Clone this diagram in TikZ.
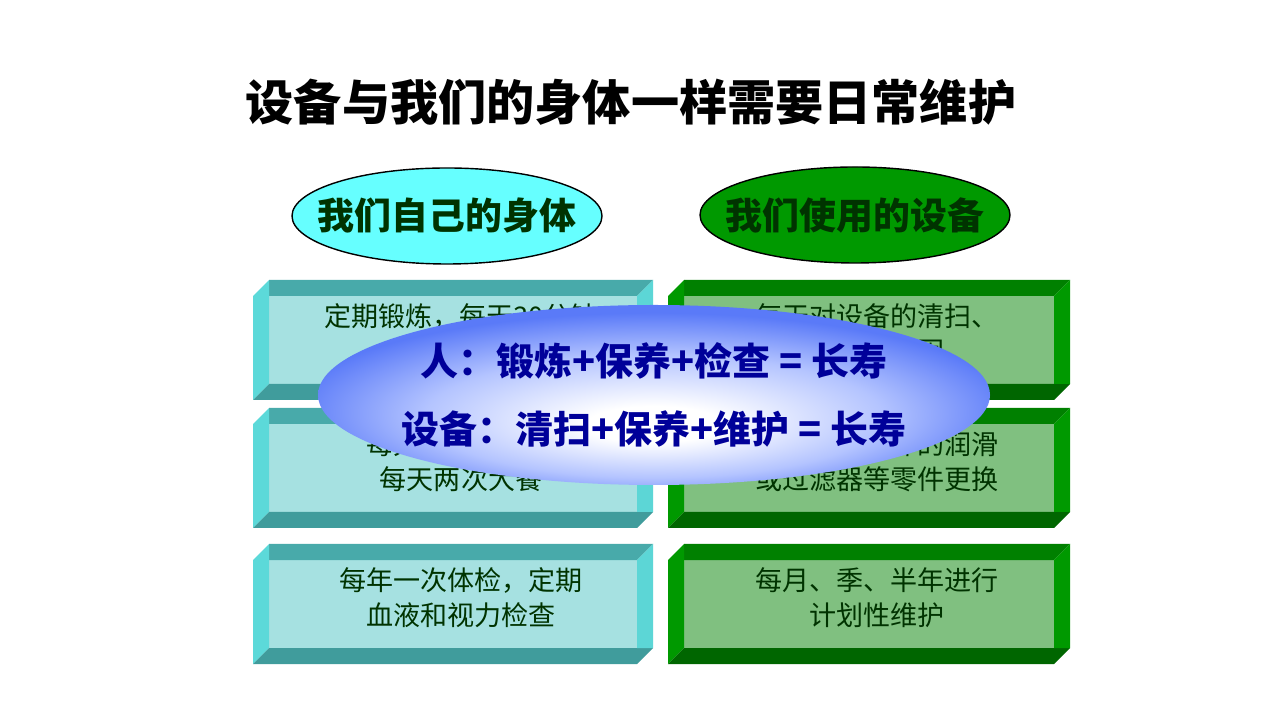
\documentclass[tikz,border=0pt]{standalone}
\usepackage{xcolor}
\usepackage{tikz}
\usetikzlibrary{shapes.geometric}
\usepackage{fontspec}
\setmainfont{Noto Sans CJK SC}

\definecolor{bodytop}{HTML}{48AAAA}
\definecolor{bodyleft}{HTML}{5CD9D9}
\definecolor{bodybot}{HTML}{409C9C}
\definecolor{bodyright}{HTML}{5CD6D6}
\definecolor{bodyface}{HTML}{A6E1E1}
\definecolor{machtop}{HTML}{008000}
\definecolor{machleft}{HTML}{009900}
\definecolor{machbot}{HTML}{006600}
\definecolor{machright}{HTML}{009900}
\definecolor{machface}{HTML}{80C080}
\definecolor{headcyan}{HTML}{66FFFF}
\definecolor{headgreen}{HTML}{009900}
\definecolor{boxink}{HTML}{003300}
\definecolor{mottoblue}{HTML}{000099}
\definecolor{glowblue}{HTML}{5A7AF8}
\definecolor{glowmid}{HTML}{B4C4FF}

\pgfdeclareradialshading{glow}{\pgfpoint{0bp}{-9bp}}{color(0bp)=(white); color(5bp)=(white); color(17bp)=(glowmid); color(27bp)=(glowblue); color(50bp)=(glowblue)}

\begin{document}
\begin{tikzpicture}[
    headline/.style={font=\bfseries\fontsize{13.7pt}{15pt}\selectfont},
    headoval/.style={ellipse, draw=black, line width=0.4pt, minimum width=3.10cm, minimum height=0.96cm, inner xsep=-0.22cm, inner ysep=0pt, text=boxink, font=\bfseries\fontsize{10.5pt}{12pt}\selectfont},
    boxtext/.style={text=boxink, align=center, font=\fontsize{7.7pt}{9.96pt}\selectfont},
    motto/.style={ellipse, minimum width=6.72cm, minimum height=1.80cm, inner xsep=-0.17cm, inner ysep=0pt, shading=glow, text=mottoblue, align=center, font=\bfseries\fontsize{10.8pt}{19.4pt}\selectfont}
  ]
            % Fix the page size
            \fill[white] (0,0) rectangle (12.8,-7.2);
            \useasboundingbox (0,0) rectangle (12.8,-7.2);

            % Title
            \node[headline] (title) at (6.31,-1.02) {设备与我们的身体一样需要日常维护};

            % The two column heads
            \node[headoval, fill=headcyan] (bodyhead) at (4.47,-2.16) {我们自己的身体};
            \node[headoval, fill=headgreen] (machhead) at (8.55,-2.15) {我们使用的设备};

            % Draw the bevelled boxes
            \foreach \xa/\ya/\xb/\yb/\pal in {2.53/2.80/6.53/4.00/body, 6.68/2.80/10.70/4.00/mach,
                                             2.53/4.08/6.53/5.28/body, 6.68/4.08/10.70/5.28/mach,
                                             2.53/5.44/6.53/6.64/body, 6.68/5.44/10.70/6.64/mach} {
                \fill[fill=\pal face] (\xa+0.16,-\ya-0.16) rectangle (\xb-0.16,-\yb+0.16);
                \fill[fill=\pal top] (\xa+0.16,-\ya) -- (\xb,-\ya) -- (\xb-0.16,-\ya-0.16) -- (\xa+0.16,-\ya-0.16) -- cycle;
                \fill[fill=\pal left] (\xa,-\ya-0.16) -- (\xa+0.16,-\ya) -- (\xa+0.16,-\yb+0.16) -- (\xa,-\yb) -- cycle;
                \fill[fill=\pal bot] (\xa,-\yb) -- (\xa+0.16,-\yb+0.16) -- (\xb,-\yb+0.16) -- (\xb-0.16,-\yb) -- cycle;
                \fill[fill=\pal right] (\xb-0.16,-\ya-0.16) -- (\xb,-\ya) -- (\xb,-\yb+0.16) -- (\xb-0.16,-\yb+0.16) -- cycle;
            }

            % Texts in the boxes
            \node[boxtext] (bodyA) at (4.61,-3.34) {定期锻炼，每天30分钟\\以上的运动};
            \node[boxtext] (bodyB) at (4.61,-4.62) {每天按时进餐，\\每天两次大餐};
            \node[boxtext] (bodyC) at (4.61,-5.98) {每年一次体检，定期\\血液和视力检查};
            \node[boxtext] (machA) at (8.77,-3.34) {每天对设备的清扫、\\检查和紧固};
            \node[boxtext] (machB) at (8.77,-4.62) {每周设备部件的润滑\\或过滤器等零件更换};
            \node[boxtext] (machC) at (8.77,-5.98) {每月、季、半年进行\\计划性维护};

            % The message on top
            \node[motto] (message) at (6.54,-3.95) {人：锻炼+保养+检查 = 长寿\\设备：清扫+保养+维护 = 长寿};
\end{tikzpicture}
\end{document}
